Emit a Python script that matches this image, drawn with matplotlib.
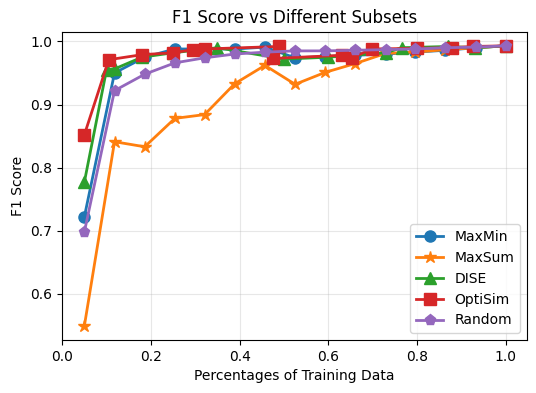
import numpy as np
import matplotlib
matplotlib.use('Agg')
import matplotlib.pyplot as plt

# x positions (percentage of training data used)
x_even = [0.05, 0.118, 0.186, 0.254, 0.321, 0.389, 0.457, 0.525,
          0.593, 0.661, 0.729, 0.796, 0.864, 0.932, 1.0]

maxmin_x = x_even
maxmin_y = [0.722, 0.950, 0.975, 0.988, 0.988, 0.988, 0.991, 0.974,
            0.976, 0.978, 0.980, 0.983, 0.986, 0.990, 0.993]

maxsum_x = x_even
maxsum_y = [0.549, 0.841, 0.833, 0.878, 0.884, 0.933, 0.962, 0.932,
            0.951, 0.965, 0.981, 0.983, 0.987, 0.990, 0.993]

dise_x = [0.05, 0.10, 0.12, 0.18, 0.25, 0.35, 0.50, 0.60, 0.73, 0.765, 0.87, 0.93, 1.0]
dise_y = [0.777, 0.955, 0.957, 0.975, 0.982, 0.990, 0.972, 0.975, 0.982, 0.990, 0.992, 0.990, 0.993]

optisim_x = [0.05, 0.105, 0.18, 0.25, 0.295, 0.322, 0.489, 0.475, 0.63,
             0.653, 0.698, 0.80, 0.878, 0.925, 1.0]
optisim_y = [0.852, 0.971, 0.979, 0.982, 0.987, 0.988, 0.992, 0.973, 0.978,
             0.974, 0.988, 0.989, 0.990, 0.992, 0.993]

random_x = x_even
random_y = [0.698, 0.922, 0.948, 0.966, 0.974, 0.980, 0.983, 0.985,
            0.985, 0.986, 0.987, 0.988, 0.990, 0.991, 0.993]

fig = plt.figure(figsize=(5.36, 3.93), dpi=100)
ax = fig.add_axes([0.116, 0.135, 0.867, 0.784])

ax.plot(maxmin_x, maxmin_y, marker='o', markersize=8, linewidth=2, label='MaxMin')
ax.plot(maxsum_x, maxsum_y, marker='*', markersize=9, linewidth=2, label='MaxSum')
ax.plot(dise_x, dise_y, marker='^', markersize=8, linewidth=2, label='DISE')
ax.plot(optisim_x, optisim_y, marker='s', markersize=8, linewidth=2, label='OptiSim')
ax.plot(random_x, random_y, marker='p', markersize=8, linewidth=2, label='Random')

ax.set_xlim(left=0)
ax.set_title('F1 Score vs Different Subsets')
ax.set_xlabel('Percentages of Training Data')
ax.set_ylabel('F1 Score')
ax.grid(True, alpha=0.3)
ax.legend(loc='lower right')

fig.savefig('out.png', dpi=100)
